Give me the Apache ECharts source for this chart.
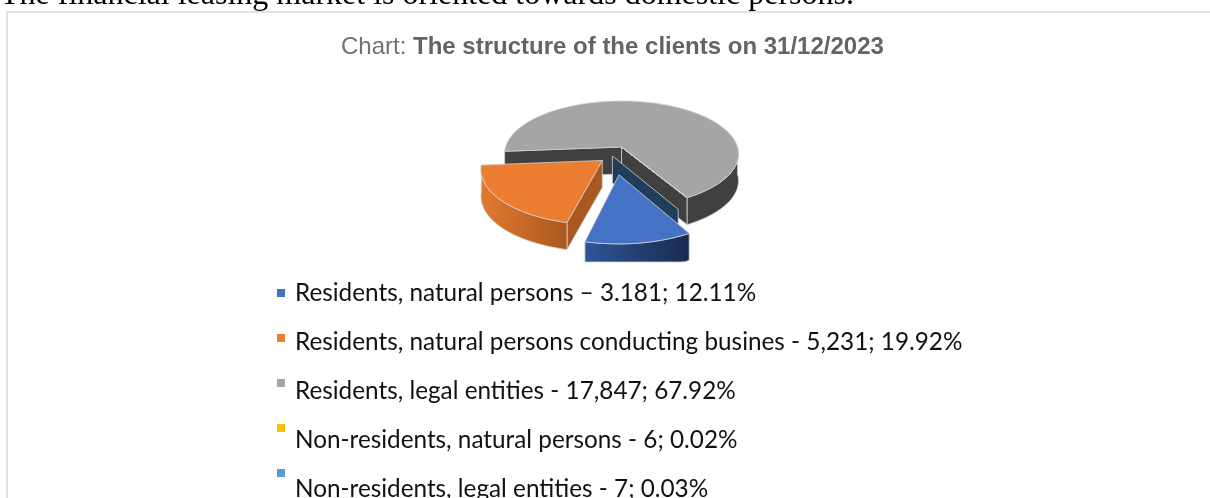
<!DOCTYPE html>
<html>

<head>
	<meta charset="UTF-8">
	<title>The structure of the clients</title>
	<script src="https://cdn.jsdelivr.net/npm/echarts@6/dist/echarts.min.js"></script>
	<style type="text/css">
		html, body { margin: 0; padding: 0; background: #fff; }
		#main { width: 1210px; height: 498px; }
	</style>
</head>

<body>
	<div id="main"></div>
	<script type="text/javascript">
		var categories = ['Residents, natural persons', 'Residents, natural persons conducting busines', 'Residents, legal entities', 'Non-residents, natural persons', 'Non-residents, legal entities'];
		var clients = [3181, 5231, 17847, 6, 7];
		var legendLabels = [
			'Residents, natural persons – 3.181; 12.11%',
			'Residents, natural persons conducting busines - 5,231; 19.92%',
			'Residents, legal entities - 17,847; 67.92%',
			'Non-residents, natural persons - 6; 0.02%',
			'Non-residents, legal entities - 7; 0.03%'
		];

		var colors = ['#4472C4', '#ED7D31', '#A5A5A5', '#FFC000', '#5B9BD5'];
		var wallColors = [
			['#2F5597', '#172B50'],
			['#E27A30', '#A9581F'],
			['#404040', '#404040'],
			['#997300', '#997300'],
			['#2E75B6', '#2E75B6']
		];
		// how far each slice is pulled out of the pie, in disk units
		var pullX = [-0.02, -0.16, 0, 0, 0];
		var pullY = [0.5, 0.25, 0, 0, 0];
		var drawOrder = [4, 5, 1, 2, 3];

		// 3D look: tilted disk with a little perspective
		var cx = 621.5, cy = 147, rx = 116, ry = 52, persp = 0.13, depth = 27;
		var startAngle = 150, clipBottom = 262;
		var total = clients.reduce(function(a, b) { return a + b; }, 0);

		function project(X, Y, down) {
			var s = 1 / (1 - persp * Y);
			return [cx + rx * X * s, Math.min(cy + ry * Y * s + (down || 0), clipBottom)];
		}

		function rim(deg, ox, oy, down) {
			var a = deg * Math.PI / 180;
			return project(Math.sin(a) + ox, -Math.cos(a) + oy, down);
		}

		function sliceAngles(index) {
			var sum = 0;
			for(var i = 0; i < index; i++) sum += clients[i];
			var from = startAngle + sum / total * 360;
			return [from, from + clients[index] / total * 360];
		}

		function arcPoints(from, to, ox, oy, down) {
			var pts = [];
			var n = Math.max(2, Math.ceil((to - from) / 2));
			for(var i = 0; i <= n; i++) pts.push(rim(from + (to - from) * i / n, ox, oy, down));
			return pts;
		}

		function poly(points, fill, stroke) {
			return {
				type: 'polygon',
				shape: { points: points },
				style: { fill: fill, stroke: stroke || null, lineWidth: stroke ? 0.8 : 0 }
			};
		}

		function renderSlice(params, api) {
			var i = params.seriesIndex;
			var ang = sliceAngles(i);
			var ox = pullX[i], oy = pullY[i];
			var tip = project(ox, oy), tipDown = project(ox, oy, depth);
			var edge = '#d0d0d0';
			var wallFill = {
				type: 'linear', x: 0, y: 0, x2: 1, y2: 0,
				colorStops: [{ offset: 0, color: wallColors[i][0] }, { offset: 1, color: wallColors[i][1] }]
			};
			var kids = [];

			if(i == 0) {
				// dark inner wall showing behind the blue slice
				var bx = -0.077, by = 0.17;
				kids.push(poly([project(bx, by), rim(ang[0], bx, by), rim(ang[0], bx, by, depth), project(bx, by, depth)], '#203D59', edge));
			}

			// cut walls facing the viewer
			if(i == 1 || i == 2) {
				var endPt = rim(ang[1 - (i == 1 ? 1 : 0)], ox, oy);
				var endDown = rim(ang[1 - (i == 1 ? 1 : 0)], ox, oy, depth);
				kids.push(poly([tip, endPt, endDown, tipDown], wallColors[i][1], edge));
			}
			if(i == 2) {
				kids.push(poly([tip, rim(ang[0], ox, oy), rim(ang[0], ox, oy, depth), tipDown], wallColors[i][0], edge));
			}

			// outer wall, only the front half of the rim can be seen
			var fromA = Math.max(ang[0], i == 2 ? 450 : 90);
			var toA = Math.min(ang[1], i == 2 ? 630 : 270);
			if(toA > fromA) {
				var upper = arcPoints(fromA, toA, ox, oy, 0);
				var lower = arcPoints(fromA, toA, ox, oy, depth).reverse();
				kids.push(poly(upper.concat(lower), wallFill, edge));
			}

			// top face
			kids.push(poly([tip].concat(arcPoints(ang[0], ang[1], ox, oy, 0)), colors[i], edge));

			return { type: 'group', children: kids };
		}

		var seriesList = [];
		for(var i = 0; i < clients.length; i++) {
			seriesList.push({
				name: legendLabels[i],
				type: 'custom',
				coordinateSystem: 'none',
				z: drawOrder[i],
				itemStyle: { color: colors[i] },
				data: [{ name: categories[i], value: clients[i] }],
				renderItem: renderSlice,
				silent: true,
				animation: false
			});
		}

		var myChart = echarts.init(document.getElementById('main'));
		var option = {
			backgroundColor: '#fff',
			animation: false,
			title: {
				text: '{n|Chart: }{b|The structure of the clients on 31/12/2023}',
				left: 336,
				top: 30,
				textStyle: {
					fontWeight: 'normal',
					rich: {
						n: { fontFamily: 'Liberation Sans', fontSize: 24, fontWeight: 'normal', color: '#737373' },
						b: { fontFamily: 'Liberation Sans', fontSize: 24, fontWeight: 'bold', color: '#646464' }
					}
				}
			},
			legend: [{
				// small square markers sit on their own tighter rhythm
				orient: 'vertical',
				left: 272,
				top: 284,
				height: 300,
				icon: 'rect',
				itemWidth: 8,
				itemHeight: 8,
				itemGap: 37,
				selectedMode: false,
				data: legendLabels,
				formatter: function() { return ' '; },
				textStyle: { fontSize: 8, lineHeight: 8 }
			}, {
				orient: 'vertical',
				left: 285,
				top: 273,
				height: 300,
				icon: 'none',
				itemWidth: 0,
				itemHeight: 30,
				itemGap: 19,
				selectedMode: false,
				data: legendLabels,
				textStyle: { fontFamily: 'Lato', fontSize: 24.3, color: '#111', lineHeight: 30 }
			}],
			graphic: [{
				type: 'rect',
				silent: true,
				shape: { x: 7, y: 12, width: 1300, height: 600 },
				style: { fill: '#fff', stroke: '#D9D9D9', lineWidth: 1.5 }
			}, {
				type: 'text',
				silent: true,
				left: 0,
				top: -20,
				style: { text: 'The financial leasing market is oriented towards domestic persons.', font: '32px "Liberation Serif"', fill: '#000' }
			}],
			series: seriesList
		};
		myChart.setOption(option);
	</script>
</body>

</html>
